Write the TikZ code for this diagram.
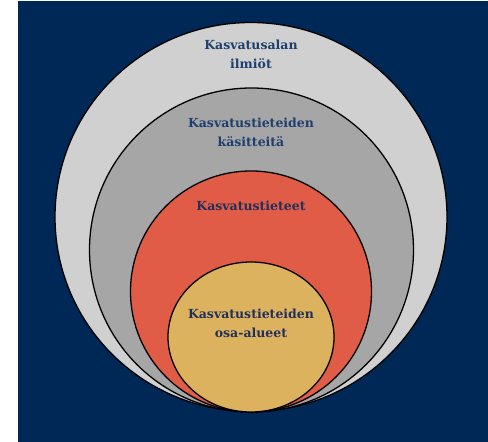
\documentclass[tikz,border=0pt]{standalone}
\usepackage{fontspec}
\setmainfont{DejaVu Serif}
\definecolor{navy}{HTML}{002856}
\definecolor{lgray}{HTML}{D0D0D0}
\definecolor{mgray}{HTML}{A6A6A6}
\definecolor{cred}{HTML}{E05C46}
\definecolor{cyel}{HTML}{DDB25E}
\definecolor{txtA}{HTML}{1F3F6E}
\definecolor{txtB}{HTML}{22305A}
\begin{document}
\begin{tikzpicture}[x=1pt,y=1pt,
  ring/.style={draw=black,line width=1.3pt},
  lbl/.style={font=\bfseries\fontsize{12.5}{19}\selectfont,align=center,inner sep=0pt}]
\useasboundingbox (0,0) rectangle (488,442);
\fill[white] (0,0) rectangle (488,442);
\fill[navy] (18,0) rectangle (488,441);
\path[ring,fill=lgray] (251,225) circle [x radius=196,y radius=194.5];
\path[ring,fill=mgray] (251.5,192) circle [radius=162];
\path[ring,fill=cred] (251,150.5) circle [radius=120.5];
\path[ring,fill=cyel] (251,105) circle [x radius=83,y radius=75];
\node[lbl,text=txtA] (a) at (251,388) {Kasvatusalan\\ilmiöt};
\node[lbl,text=txtA] (b) at (251,309.5) {Kasvatustieteiden\\käsitteitä};
\node[lbl,text=txtB] (c) at (251,236) {Kasvatustieteet};
\node[lbl,text=txtB] (d) at (251,118.5) {Kasvatustieteiden\\osa-alueet};
\end{tikzpicture}
\end{document}
